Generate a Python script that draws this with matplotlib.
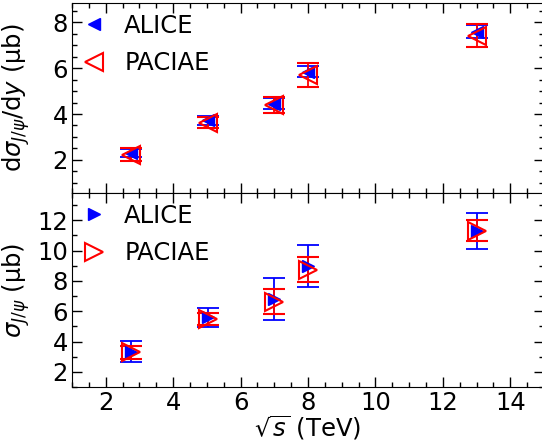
import matplotlib.pyplot as plt
from matplotlib.lines import Line2D
from matplotlib.ticker import MultipleLocator

# J/psi production in pp collisions vs collision energy
energies = [2.76, 5.02, 7.0, 8.0, 13.0]

# d sigma / dy at mid-rapidity (ub)
alice_dsdy = [2.29, 3.72, 4.45, 5.85, 7.6]
alice_dsdy_err = [0.18, 0.2, 0.25, 0.25, 0.28]
paciae_dsdy = [2.22, 3.62, 4.38, 5.72, 7.42]
paciae_dsdy_err = [0.28, 0.25, 0.35, 0.52, 0.5]

# total cross section (ub)
alice_sigma = [3.33, 5.6, 6.8, 8.97, 11.3]
alice_sigma_err = [0.69, 0.64, 1.38, 1.4, 1.2]
paciae_sigma = [3.3, 5.5, 6.64, 8.75, 11.3]
paciae_sigma_err = [0.43, 0.4, 0.82, 0.85, 0.7]

FS = 17.5
plt.rcParams['font.size'] = FS
plt.rcParams['mathtext.default'] = 'it'

fig = plt.figure(figsize=(5.42, 4.44), dpi=100)
ax1 = fig.add_axes([72 / 542, 1 - 193 / 444, 472 / 542, 190 / 444])
ax2 = fig.add_axes([72 / 542, 1 - 387 / 444, 472 / 542, 194 / 444], sharex=ax1)


def style(ax):
    ax.tick_params(which='both', direction='in', top=True, right=True,
                   labelsize=FS, pad=3)
    ax.tick_params(which='major', length=7, width=1)
    ax.tick_params(which='minor', length=3.5, width=1)


def add_legend(ax, marker):
    handles = [
        Line2D([], [], ls='none', marker=marker, color='blue', ms=9),
        Line2D([], [], ls='none', marker=marker, color='red', mfc='none',
               ms=13, mew=1.5),
    ]
    ax.legend(handles, ['ALICE', 'PACIAE'], loc='upper left', frameon=False,
              handlelength=0.9, handletextpad=0.8, labelspacing=0.55,
              borderaxespad=0.2, borderpad=0.25, fontsize=FS)


# upper panel: d sigma / dy
ax1.errorbar(energies, alice_dsdy, yerr=alice_dsdy_err, fmt='<', color='blue',
             ms=9, capsize=8, elinewidth=1.3, capthick=1.3)
ax1.errorbar(energies, paciae_dsdy, yerr=paciae_dsdy_err, fmt='<', color='red',
             mfc='none', ms=13, mew=1.5, capsize=8, elinewidth=1.3,
             capthick=1.3)
ax1.set_ylim(0.55, 8.85)
ax1.yaxis.set_major_locator(MultipleLocator(2))
ax1.yaxis.set_minor_locator(MultipleLocator(0.5))
ax1.set_ylabel(r'd$\sigma_{J/\psi}$/d$y$ ($\mathrm{\mu}$b)')
ax1.yaxis.set_label_coords(-0.085, 0.5)
add_legend(ax1, '<')
ax1.tick_params(labelbottom=False)
style(ax1)

# lower panel: total cross section
ax2.errorbar(energies, alice_sigma, yerr=alice_sigma_err, fmt='>', color='blue',
             ms=9, capsize=8, elinewidth=1.3, capthick=1.3)
ax2.errorbar(energies, paciae_sigma, yerr=paciae_sigma_err, fmt='>', color='red',
             mfc='none', ms=13, mew=1.5, capsize=8, elinewidth=1.3,
             capthick=1.3)
ax2.set_xlim(1, 15)
ax2.set_ylim(1, 13.8)
ax2.xaxis.set_major_locator(MultipleLocator(2))
ax2.xaxis.set_minor_locator(MultipleLocator(0.5))
ax2.yaxis.set_major_locator(MultipleLocator(2))
ax2.yaxis.set_minor_locator(MultipleLocator(1))
ax2.set_ylabel(r'$\sigma_{J/\psi}$ ($\mathrm{\mu}$b)')
ax2.yaxis.set_label_coords(-0.085, 0.5)
ax2.set_xlabel(r'$\sqrt{s}$ (TeV)', labelpad=-1)
add_legend(ax2, '>')
style(ax2)

fig.savefig('out.png', dpi=100)
